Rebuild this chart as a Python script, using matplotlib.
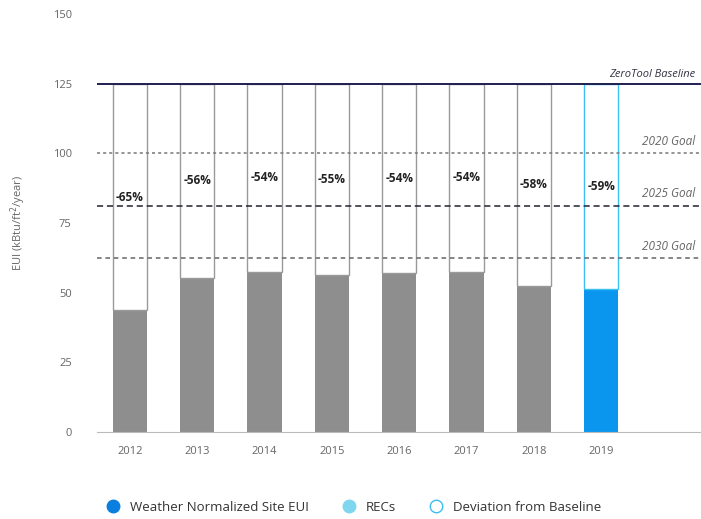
import matplotlib
matplotlib.use("Agg")
import matplotlib.pyplot as plt
from matplotlib.lines import Line2D

plt.rcParams['font.family'] = ['Open Sans', 'DejaVu Sans']

years = ['2012', '2013', '2014', '2015', '2016', '2017', '2018', '2019']
site_eui = [43.6, 55.3, 57.4, 56.2, 57.0, 57.4, 52.4, 51.1]
pct_labels = ['-65%', '-56%', '-54%', '-55%', '-54%', '-54%', '-58%', '-59%']
baseline = 125
goals = [100, 81.25, 62.5]
goal_names = ['2020 Goal', '2025 Goal', '2030 Goal']

fig = plt.figure(figsize=(7.01, 5.19), dpi=100)
ax = fig.add_axes([0.138, 0.168, 0.862, 0.805])

x = list(range(len(years)))
gray = '#8e8e8e'
blue = '#0a95ee'
colors = [gray] * (len(years) - 1) + [blue]
edge = ['#9a9a9a'] * (len(years) - 1) + ['#3cc0f0']

# measured bars
ax.bar(x, site_eui, width=0.51, color=colors, zorder=2)
# deviation from baseline (outline only)
dev = [baseline - v for v in site_eui]
ax.bar(x, dev, bottom=site_eui, width=0.51, facecolor='none',
       edgecolor=edge, linewidth=1.0, zorder=3)

# baseline and goal lines
ax.axhline(baseline, color='#1f1f4f', lw=1.4, zorder=4)
ax.text(8.4, baseline + 1.2, 'ZeroTool Baseline', ha='right', va='bottom',
        style='italic', fontsize=8, color='#333344')
styles = [(0, (2, 2)), (0, (4, 2.5)), (0, (3, 2.5))]
lcols = ['#777777', '#222233', '#666666']
for g, name, ls, c in zip(goals, goal_names, styles, lcols):
    ax.axhline(g, color=c, lw=1.1, ls=ls, zorder=4)
    ax.text(8.4, g + 1.8, name, ha='right', va='bottom', style='italic',
            fontsize=8.5, color='#666666')

for xi, v, lab in zip(x, site_eui, pct_labels):
    ax.text(xi, (v + baseline) / 2, lab, ha='center', va='center',
            fontsize=8.5, fontweight='bold', color='#222222', zorder=5)

ax.set_xlim(-0.49, 8.48)
ax.set_ylim(0, 150)
ax.set_yticks([0, 25, 50, 75, 100, 125, 150])
ax.set_xticks(x)
ax.set_xticklabels(years)
ax.tick_params(axis='both', labelsize=8, colors='#666666', length=0, pad=10)
ax.tick_params(axis='y', pad=18)
for s in ['top', 'right', 'left']:
    ax.spines[s].set_visible(False)
ax.spines['bottom'].set_color('#bbbbbb')
ax.set_ylabel('EUI (kBtu/ft$^2$/year)', fontsize=8, color='#666666', labelpad=18)

handles = [
    Line2D([], [], marker='o', ls='none', markersize=9, color='#0a7fe0'),
    Line2D([], [], marker='o', ls='none', markersize=9, color='#7fd6ef'),
    Line2D([], [], marker='o', ls='none', markersize=9, markerfacecolor='white',
           markeredgecolor='#3cc0f0'),
]
fig.legend(handles, ['Weather Normalized Site EUI', 'RECs', 'Deviation from Baseline'],
           loc='center', bbox_to_anchor=(0.5, 0.022), ncol=3, frameon=False,
           fontsize=9.5, handletextpad=0.3, columnspacing=2.0, labelcolor='#333333')

fig.savefig('out.png', dpi=100)
